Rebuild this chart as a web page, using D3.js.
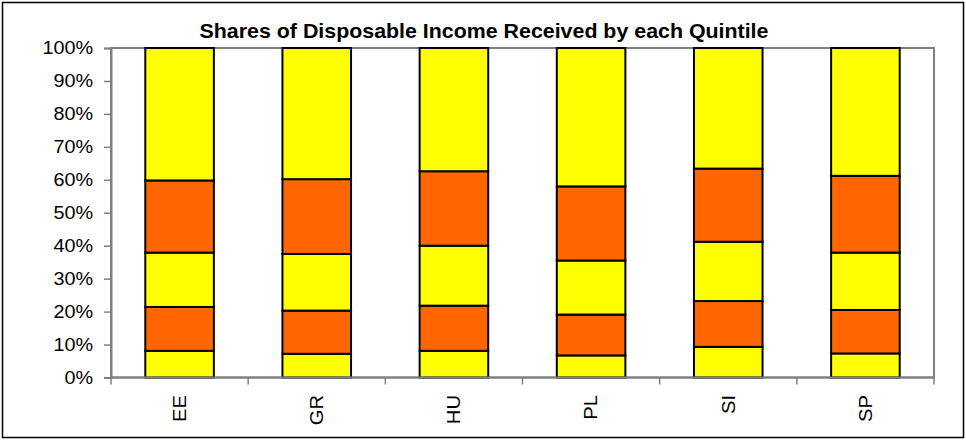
<!DOCTYPE html>
<html>
<head>
<meta charset="utf-8">
<script src="https://cdn.jsdelivr.net/npm/d3@7/dist/d3.min.js"></script>
<style>
  html, body { margin: 0; padding: 0; background: #fff; }
  svg { display: block; }
  text { font-family: "Liberation Sans", Arial, sans-serif; fill: #000; }
</style>
</head>
<body>
<svg id="chart" width="966" height="440"></svg>
<script>
// Countries along the x axis
const countries = ["EE", "GR", "HU", "PL", "SI", "SP"];
// Share of disposable income (%) received by each quintile, bottom to top
const quintile1 = [8.1, 7.2, 8.1, 6.7, 9.3, 7.3];
const quintile2 = [13.3, 13.1, 13.7, 12.4, 13.9, 13.2];
const quintile3 = [16.5, 17.2, 18.2, 16.4, 18.0, 17.4];
const quintile4 = [21.9, 22.7, 22.6, 22.5, 22.2, 23.3];
const quintile5 = [40.2, 39.8, 37.4, 42.0, 36.6, 38.8];
const yTicks = [0, 10, 20, 30, 40, 50, 60, 70, 80, 90, 100];
const titleText = "Shares of Disposable Income Received by each Quintile";

const keys = ["q1", "q2", "q3", "q4", "q5"];
const fills = ["#FFFF00", "#FF6600", "#FFFF00", "#FF6600", "#FFFF00"];
const rows = countries.map((c, i) => ({
  country: c,
  q1: quintile1[i], q2: quintile2[i], q3: quintile3[i], q4: quintile4[i], q5: quintile5[i]
}));

const svg = d3.select("#chart");
const W = 966, H = 440;
const plot = { left: 111, right: 934, top: 48, bottom: 377.5 };

// outer chart frame
svg.append("rect")
  .attr("x", 2.5).attr("y", 2.5)
  .attr("width", W - 5).attr("height", H - 5)
  .attr("fill", "#fff").attr("stroke", "#000").attr("stroke-width", 1.5);

const x = d3.scaleBand().domain(countries).range([plot.left, plot.right]).paddingInner(0.5).paddingOuter(0.25);
const xEdges = d3.scaleBand().domain(countries).range([plot.left, plot.right]);
const y = d3.scaleLinear().domain([0, 100]).range([plot.bottom, plot.top]);

// plot area border
svg.append("rect")
  .attr("x", plot.left).attr("y", plot.top)
  .attr("width", plot.right - plot.left).attr("height", plot.bottom - plot.top)
  .attr("fill", "none").attr("stroke", "#808080").attr("stroke-width", 2);

// stacked bars
const stacked = d3.stack().keys(keys)(rows);
svg.append("g").selectAll("g")
  .data(stacked)
  .join("g")
  .attr("fill", (d, i) => fills[i])
  .selectAll("rect")
  .data(d => d)
  .join("rect")
  .attr("x", d => x(d.data.country))
  .attr("width", x.bandwidth())
  .attr("y", d => y(d[1]))
  .attr("height", d => y(d[0]) - y(d[1]))
  .attr("stroke", "#000")
  .attr("stroke-width", 2);

// y axis
const yAxis = svg.append("g")
  .attr("transform", `translate(${plot.left},0)`)
  .call(d3.axisLeft(y).tickValues(yTicks).tickSize(7).tickPadding(11).tickFormat(d => d + "%"));
yAxis.select(".domain").attr("stroke", "#808080").attr("stroke-width", 2);
yAxis.selectAll(".tick line").attr("stroke", "#808080").attr("stroke-width", 1.5);
yAxis.selectAll(".tick text")
  .attr("font-size", 18)
  .attr("font-family", "Liberation Sans, Arial, sans-serif")
  .each(function () {
    const t = d3.select(this);
    const xx = +t.attr("x");
    t.attr("x", null).attr("transform", `translate(${xx},0) scale(1.1,1)`);
  });

// x axis: ticks at category boundaries
const boundaries = countries.map(c => xEdges(c)).concat([plot.right]);
const xAxis = svg.append("g");
xAxis.append("line")
  .attr("x1", plot.left).attr("x2", plot.right)
  .attr("y1", plot.bottom).attr("y2", plot.bottom)
  .attr("stroke", "#808080").attr("stroke-width", 2);
xAxis.selectAll("line.tick")
  .data(boundaries)
  .join("line")
  .attr("class", "tick")
  .attr("x1", d => d).attr("x2", d => d)
  .attr("y1", plot.bottom).attr("y2", plot.bottom + 7)
  .attr("stroke", "#808080").attr("stroke-width", 1.5);
xAxis.selectAll("text")
  .data(countries)
  .join("text")
  .attr("transform", d => `translate(${xEdges(d) + xEdges.bandwidth() / 2},395) rotate(-90) scale(1.12,1)`)
  .attr("text-anchor", "end")
  .attr("dy", "0.35em")
  .attr("font-size", 18)
  .text(d => d);

// title
svg.append("text")
  .attr("transform", "translate(484,37.5) scale(1.08,1)")
  .attr("text-anchor", "middle")
  .attr("font-size", 19.8)
  .attr("font-weight", "bold")
  .text(titleText);
</script>
</body>
</html>
